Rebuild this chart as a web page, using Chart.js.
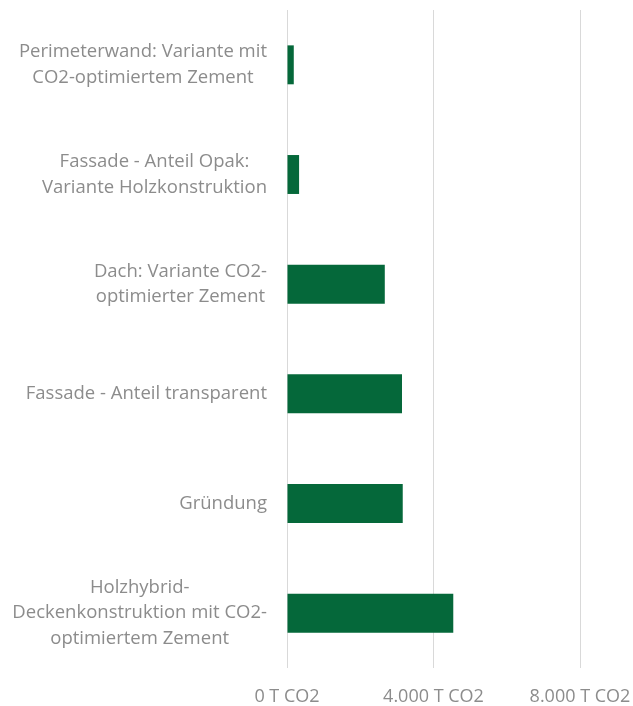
<!DOCTYPE html>
<html>
<head>
<meta charset="utf-8">
<script src="https://cdn.jsdelivr.net/npm/chart.js@4/dist/chart.umd.min.js"></script>
<style>
  html, body { margin: 0; padding: 0; background: #fff; }
  #wrap { width: 633px; height: 706px; }
</style>
</head>
<body>
<div id="wrap"><canvas id="chart" width="633" height="706"></canvas></div>
<script>
const categories = [
  ['Perimeterwand: Variante mit', 'CO2-optimiertem Zement'],
  ['Fassade - Anteil Opak:', 'Variante Holzkonstruktion'],
  ['Dach: Variante CO2-', 'optimierter Zement '],
  ['Fassade - Anteil transparent'],
  ['Gründung'],
  ['Holzhybrid-', 'Deckenkonstruktion mit CO2-', 'optimiertem Zement']
];
const emissions = [185, 330, 2670, 3140, 3160, 4540];
const xTicks = [0, 4000, 8000];

const textColor = '#8c8c8c';
const fontFamily = '"Open Sans", Lato, sans-serif';
const labelFont = '18.5px ' + fontFamily;
const labelLineHeight = 25.5;
const labelGap = 20;

const formatTonnes = (v) => v.toLocaleString('de-DE') + ' T CO2';

// Excel-style category labels: block right-aligned, lines centered inside it
const categoryLabels = {
  id: 'categoryLabels',
  afterDraw(chart) {
    const ctx = chart.ctx;
    const yScale = chart.scales.y;
    const right = yScale.right - labelGap;
    ctx.save();
    ctx.font = labelFont;
    ctx.fillStyle = textColor;
    ctx.textAlign = 'center';
    ctx.textBaseline = 'middle';
    categories.forEach((lines, i) => {
      const maxW = Math.max(...lines.map((l) => ctx.measureText(l.trim()).width));
      const cx = right - maxW / 2;
      const cy = yScale.getPixelForValue(i);
      const startY = cy - (lines.length - 1) * labelLineHeight / 2;
      lines.forEach((line, j) => {
        ctx.fillText(line.trim(), cx, startY + j * labelLineHeight);
      });
    });
    ctx.restore();
  }
};

new Chart(document.getElementById('chart').getContext('2d'), {
  type: 'bar',
  data: {
    labels: categories.map((l) => l.join(' ')),
    datasets: [{
      data: emissions,
      backgroundColor: '#05683A',
      borderWidth: 0,
      categoryPercentage: 1,
      barPercentage: 0.355
    }]
  },
  plugins: [categoryLabels],
  options: {
    indexAxis: 'y',
    responsive: false,
    animation: false,
    layout: { padding: { top: 10, right: 53, left: 0, bottom: 0 } },
    plugins: {
      legend: { display: false },
      tooltip: { enabled: false }
    },
    scales: {
      x: {
        min: 0,
        max: 8000,
        afterBuildTicks: (axis) => {
          axis.ticks = xTicks.map((v) => ({ value: v }));
        },
        afterFit: (axis) => {
          axis.height = 38;
          axis.paddingLeft = 0;
          axis.paddingRight = 0;
        },
        grid: { color: '#d9d9d9', lineWidth: 1, drawTicks: false },
        border: { display: false },
        ticks: {
          color: textColor,
          padding: 18,
          maxRotation: 0,
          font: { family: fontFamily, size: 18 },
          callback: (v) => formatTonnes(v)
        }
      },
      y: {
        afterFit: (axis) => {
          axis.width = 287;
          axis.paddingTop = 0;
          axis.paddingBottom = 0;
        },
        grid: { display: false, drawTicks: false },
        border: { display: false },
        ticks: { display: false }
      }
    }
  }
});
</script>
</body>
</html>
